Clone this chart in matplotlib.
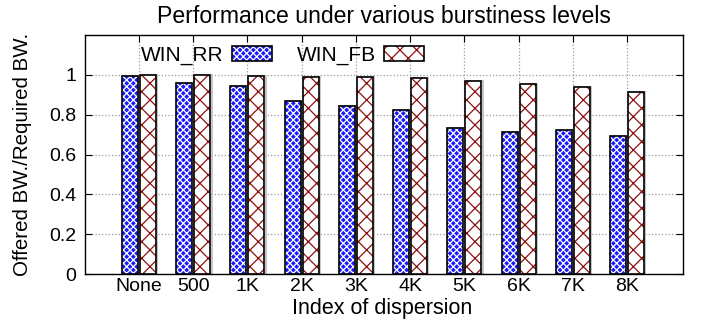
import matplotlib
matplotlib.use('Agg')
import matplotlib.pyplot as plt
from matplotlib.patches import Patch
import numpy as np

# data
labels = ['None', '500', '1K', '2K', '3K', '4K', '5K', '6K', '7K', '8K']
win_rr = [0.993, 0.960, 0.943, 0.868, 0.845, 0.823, 0.733, 0.713, 0.723, 0.692]
win_fb = [0.998, 0.998, 0.993, 0.990, 0.988, 0.983, 0.970, 0.955, 0.940, 0.912]

plt.rcParams['font.family'] = ['Liberation Sans', 'DejaVu Sans']
plt.rcParams['hatch.linewidth'] = 0.9

RR_COL = '#1a1aff'
FB_COL = '#8b1010'

fig = plt.figure(figsize=(7.01, 3.22), dpi=100)
ax = fig.add_axes([0.121, 0.149, 0.853, 0.742])

x = np.arange(len(labels))
w = 0.295
off = 0.166

# grey drop shadow, then pattern fill, then black outline
for xs, vals in ((x - off, win_rr), (x + off, win_fb)):
    ax.bar(xs + 0.025, vals, w, color='none', edgecolor='#bbbbbb', linewidth=1.2, zorder=2)

ax.bar(x - off, win_rr, w, color=RR_COL, edgecolor='white', hatch='xxxxx', linewidth=0, zorder=3)
ax.bar(x + off, win_fb, w, color='white', edgecolor=FB_COL, hatch='xx', linewidth=0, zorder=3)
ax.bar(x - off, win_rr, w, fill=False, edgecolor='black', linewidth=1.2, zorder=4)
ax.bar(x + off, win_fb, w, fill=False, edgecolor='black', linewidth=1.2, zorder=4)

# legend proxies (fill + outline)
h1 = Patch(facecolor=RR_COL, edgecolor='white', hatch='xxxxx', linewidth=0)
h2 = Patch(facecolor='white', edgecolor=FB_COL, hatch='xx', linewidth=0)
h1o = Patch(fill=False, edgecolor='black', linewidth=1.2)
h2o = Patch(fill=False, edgecolor='black', linewidth=1.2)
ax.legend([(h1, h1o), (h2, h2o)], ['WIN_RR', 'WIN_FB'], ncol=2, frameon=False,
          markerfirst=False, loc='center left', bbox_to_anchor=(0.094, 0.915),
          borderaxespad=0, borderpad=0,
          fontsize=15, handlelength=1.9, handleheight=0.7, columnspacing=1.2,
          handletextpad=0.4)

ax.set_xlim(-1, 10.03)
ax.set_ylim(0, 1.2)
ax.set_xticks(x)
ax.set_xticklabels(labels)
ax.set_yticks([0, 0.2, 0.4, 0.6, 0.8, 1.0])
ax.set_yticklabels(['0', '0.2', '0.4', '0.6', '0.8', '1'])
ax.tick_params(direction='in', top=True, right=True, length=5, labelsize=14)
ax.tick_params(axis='x', pad=3)
ax.tick_params(axis='y', pad=6)
ax.grid(True, linestyle=':', color='#999999', linewidth=0.9, zorder=0)
ax.set_axisbelow(True)
for s in ax.spines.values():
    s.set_linewidth(1.0)

ax.set_title('Performance under various burstiness levels', fontsize=16.6, y=1.05, pad=0)
ax.set_xlabel('Index of dispersion', fontsize=15.5)
ax.xaxis.label.set_va('baseline')
ax.xaxis.set_label_coords(0.497, -0.168)
ax.set_ylabel('Offered BW./Required BW.', fontsize=14.8)
ax.yaxis.label.set_va('baseline')
ax.yaxis.set_label_coords(-0.095, 0.5)

fig.savefig('out.png', dpi=100)
